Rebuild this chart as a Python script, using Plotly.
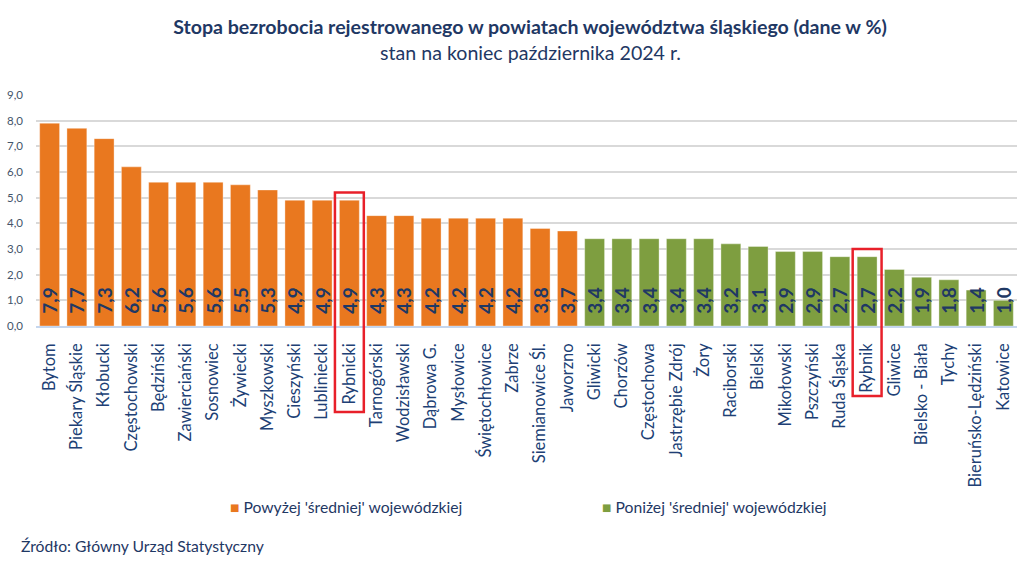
import plotly.graph_objects as go

# ---- data ----
above_names = ["Bytom", "Piekary Śląskie", "Kłobucki", "Częstochowski", "Będziński",
               "Zawierciański", "Sosnowiec", "Żywiecki", "Myszkowski", "Cieszyński",
               "Lubliniecki", "Rybnicki", "Tarnogórski", "Wodzisławski", "Dąbrowa G.",
               "Mysłowice", "Świętochłowice", "Zabrze", "Siemianowice Śl.", "Jaworzno"]
above_values = [7.9, 7.7, 7.3, 6.2, 5.6, 5.6, 5.6, 5.5, 5.3, 4.9,
                4.9, 4.9, 4.3, 4.3, 4.2, 4.2, 4.2, 4.2, 3.8, 3.7]

below_names = ["Gliwicki", "Chorzów", "Częstochowa", "Jastrzębie Zdrój", "Żory",
               "Raciborski", "Bielski", "Mikołowski", "Pszczyński", "Ruda Śląska",
               "Rybnik", "Gliwice", "Bielsko - Biała", "Tychy", "Bieruńsko-Lędziński",
               "Katowice"]
below_values = [3.4, 3.4, 3.4, 3.4, 3.4, 3.2, 3.1, 2.9, 2.9, 2.7,
                2.7, 2.2, 1.9, 1.8, 1.4, 1.0]

highlighted = ["Rybnicki", "Rybnik"]
highlight_box_bottom = [-0.372, -0.303]   # paper units below axis, per highlighted label

y_ticks = [0, 1, 2, 3, 4, 5, 6, 7, 8, 9]

series_names = ["Powyżej 'średniej' wojewódzkiej", "Poniżej 'średniej' wojewódzkiej"]

# ---- styles ----
ORANGE = "#E9781F"
GREEN = "#7E9E40"
NAVY = "#1F3864"
LABEL = "#203F75"
FONT = "Lato"

categories = above_names + below_names
values = above_values + below_values

def fmt(v):
    return "\u00a0\u00a0" + f"{v:.1f}".replace(".", ",")

fig = go.Figure()
for names, vals, color, nm in [(above_names, above_values, ORANGE, series_names[0]),
                               (below_names, below_values, GREEN, series_names[1])]:
    fig.add_trace(go.Bar(
        x=names, y=vals, name=nm,
        marker=dict(color=color, line=dict(color="rgba(255,255,255,0.35)", width=1)),
        text=[fmt(v) for v in vals],
        textposition="inside", insidetextanchor="start", textangle=-90,
        constraintext="none",
        insidetextfont=dict(family=FONT, size=19, color=NAVY, weight="bold"),
        showlegend=False,
        hovertemplate="%{x}: %{y:.1f}<extra></extra>",
    ))

# red boxes around highlighted categories
for name, bottom in zip(highlighted, highlight_box_bottom):
    i = categories.index(name)
    v = values[i]
    fig.add_shape(type="rect", xref="x", yref="paper",
                  x0=i - 0.53, x1=i + 0.53,
                  y0=bottom, y1=(v + 0.3) / max(y_ticks),
                  line=dict(color="#E8202A", width=2.5), fillcolor="rgba(0,0,0,0)",
                  layer="above")

# title / subtitle
fig.update_layout(
    title=dict(text="<b>Stopa bezrobocia rejestrowanego w powiatach województwa śląskiego (dane w %)</b>",
               x=530 / 1024, xanchor="center", xref="container",
               y=1 - 27 / 562, yanchor="middle", yref="container",
               font=dict(family=FONT, size=19.6, color=NAVY)),
)
fig.add_annotation(text="stan na koniec października 2024 r.", xref="paper", yref="paper",
                   x=0.5036, y=1.186, xanchor="center", yanchor="middle", showarrow=False,
                   font=dict(family=FONT, size=19.6, color=NAVY))

# manual legend
leg_x = [0.1955, 0.575]
for nm, color, lx in zip(series_names, [ORANGE, GREEN], leg_x):
    fig.add_annotation(text=f'<span style="color:{color}">■</span> {nm}',
                       xref="paper", yref="paper", x=lx, y=-0.7835,
                       xanchor="left", yanchor="middle", showarrow=False,
                       font=dict(family=FONT, size=15.7, color=NAVY))

# source
fig.add_annotation(text="Źródło: Główny Urząd Statystyczny", xref="paper", yref="paper",
                   x=-0.0173, y=-0.952, xanchor="left", yanchor="middle", showarrow=False,
                   font=dict(family=FONT, size=15.7, color=NAVY))

fig.update_layout(
    width=1024, height=562,
    margin=dict(l=36, r=7, t=95, b=236),
    paper_bgcolor="white", plot_bgcolor="white",
    barmode="overlay", bargap=0.27,
    separators=", ",
    font=dict(family=FONT, color=NAVY),
    xaxis=dict(type="category", categoryorder="array", categoryarray=categories,
               tickangle=-90, tickfont=dict(family=FONT, size=16.5, color=LABEL),
               showgrid=False, showline=True, linecolor="#C5D6EE", linewidth=1.5,
               ticks="", ticklabelstandoff=9, automargin=False),
    yaxis=dict(range=[0, 9], tickvals=y_ticks, tickformat=".1f",
               tickfont=dict(family=FONT, size=11.5, color="#44546A"),
               showgrid=True, gridcolor="#D9D9D9", gridwidth=1.5,
               zeroline=False, ticks="", ticklabelstandoff=12, automargin=False),
)

fig.write_html("out.html", config={"displayModeBar": False},
               post_script="document.body.style.margin='0';document.body.style.overflow='hidden';")
